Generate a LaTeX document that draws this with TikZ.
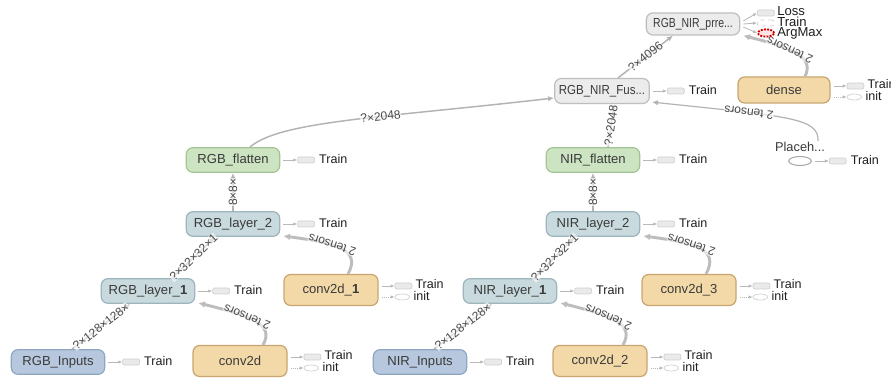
\documentclass[tikz,border=0pt]{standalone}
\usepackage{fontspec}
\setmainfont{Liberation Sans}
\usepackage{graphicx}
\usetikzlibrary{calc,positioning,arrows.meta,shapes.geometric}
\definecolor{txt}{HTML}{3A3A3A}
\definecolor{gfill}{HTML}{ECECEC}
\definecolor{gdraw}{HTML}{BEBEBE}
\definecolor{infill}{HTML}{B7C8DE}
\definecolor{indraw}{HTML}{8EA6C2}
\definecolor{layfill}{HTML}{C8DADE}
\definecolor{laydraw}{HTML}{9DB5BC}
\definecolor{flfill}{HTML}{CDE4C2}
\definecolor{fldraw}{HTML}{A3C592}
\definecolor{tanfill}{HTML}{F3D9A8}
\definecolor{tandraw}{HTML}{C8A570}
\definecolor{edgec}{HTML}{B3B3B3}
\definecolor{edgec2}{HTML}{BDBDBD}
\definecolor{labc}{HTML}{4A4A4A}
\definecolor{stubd}{HTML}{CFCFCF}
\definecolor{stubf}{HTML}{EAEAEA}
\definecolor{stuba}{HTML}{B8B8B8}
\newcommand\trainout[1]{%
  \node[stubrect, anchor=west] (#1st) at ($(#1.east)+(17,0)$) {};
  \node[outtxt] (#1tx) at ($(#1st.east)+(4,-1)$) {Train};
  \draw[stubarrow] ($(#1.east)+(3,0)$) -- (#1st.west);
}
\newcommand\traininit[1]{%
  \node[stubrect, anchor=west] (#1st) at ($(#1.east)+(16,-4)$) {};
  \node[stubell, anchor=west] (#1se) at ($(#1.east)+(16,7)$) {};
  \node[outtxt] (#1tx) at ($(#1st.east)+(3,-2)$) {Train};
  \node[outtxt] (#1ti) at ($(#1st.east)+(1,10)$) {init};
  \draw[stubarrow] ($(#1.east)+(3,-4)$) -- (#1st.west);
  \draw[stubarrow, densely dotted] ($(#1.east)+(3,7)$) -- (#1se.west);
}
\begin{document}
\begin{tikzpicture}[x=0.75pt,y=-0.75pt,
  opnode/.style={draw, rounded corners=5pt, line width=0.9pt, inner sep=0pt,
    minimum width=70pt, minimum height=18.5pt,
    font=\fontsize{9.8}{11}\selectfont, text=txt},
  grayop/.style={opnode, fill=gfill, draw=gdraw},
  inop/.style={opnode, fill=infill, draw=indraw},
  layop/.style={opnode, fill=layfill, draw=laydraw},
  flatop/.style={opnode, fill=flfill, draw=fldraw},
  tanop/.style={opnode, fill=tanfill, draw=tandraw, minimum height=23.25pt, minimum width=70.5pt},
  edge/.style={draw=edgec, line width=1.1pt, -{Latex[length=4.5pt,width=4pt]}},
  tedge/.style={draw=edgec2, line width=2.2pt, -{Latex[length=5pt,width=5pt]}},
  elabel/.style={sloped, font=\fontsize{9}{10}\selectfont, text=labc, inner sep=0.3pt,
    fill=white, fill opacity=0.6, text opacity=1},
  stubrect/.style={draw=stubd, fill=stubf, rounded corners=1.5pt, minimum width=12.75pt,
    minimum height=4.5pt, inner sep=0pt, line width=0.5pt},
  stubell/.style={ellipse, draw=stubd, fill=white, minimum width=11pt, minimum height=4.5pt,
    inner sep=0pt, line width=0.5pt},
  stubarrow/.style={draw=stuba, line width=0.6pt, -{Latex[length=3pt,width=2.5pt]}},
  outtxt/.style={anchor=west, inner sep=0pt, font=\fontsize{9.4}{10}\selectfont, text=black!88},
  bigtxt/.style={anchor=west, inner sep=0pt, font=\fontsize{9.8}{10}\selectfont, text=black!88}
]
\clip (0,0) rectangle (891,384);
\fill[white] (0,0) rectangle (891,384);

% RGB branch
\node[inop]  (rgbin) at (58,362) {RGB\_Inputs};
\node[layop] (rgbl1) at (148,291) {RGB\_layer\_\textbf{1}};
\node[layop] (rgbl2) at (233,224) {RGB\_layer\_2};
\node[flatop] (rgbfl) at (233,160) {RGB\_flatten};
\node[tanop] (cv0) at (240,361) {conv2d};
\node[tanop] (cv1) at (331,290) {conv2d\_\textbf{1}};

% NIR branch
\node[inop]  (nirin) at (420,362) {NIR\_Inputs};
\node[layop] (nirl1) at (510,291) {NIR\_layer\_\textbf{1}};
\node[layop] (nirl2) at (593,224) {NIR\_layer\_2};
\node[flatop] (nirfl) at (593,160) {NIR\_flatten};
\node[tanop] (cv2) at (600,361) {conv2d\_2};
\node[tanop] (cv3) at (689,290) {conv2d\_3};

% top
\node[grayop, minimum width=71pt, minimum height=18.75pt] (fus) at (602,91) {\scalebox{0.88}[1]{RGB\_NIR\_Fus...}};
\node[grayop, minimum height=16.5pt] (prre) at (693,24) {\scalebox{0.8}[1]{RGB\_NIR\_prre...}};
\node[tanop, minimum width=69pt, minimum height=19.5pt] (dense) at (784,90) {dense};
\node[inner sep=0pt, font=\fontsize{9.6}{10}\selectfont, text=txt] (plc) at (800,147) {Placeh...};
\node[ellipse, draw=gdraw!90!black, fill=white, line width=0.8pt, minimum width=17pt, minimum height=6.75pt, inner sep=0pt] (plcel) at (800,161) {};

% edges RGB
\draw[edge] ($(rgbin.north)+(14,0)$) -- node[elabel]{?×128×128×} ($(rgbl1.south)+(-18,0)$);
\draw[edge] ($(rgbl1.north)+(24,0)$) -- node[elabel]{?×32×32×1} ($(rgbl2.south)+(-18,0)$);
\draw[edge] (rgbl2) -- node[elabel]{8×8×} (rgbfl);
\draw[tedge] ($(cv0.north)+(23,0)$) .. controls +(12,-21) and +(52,13) .. ($(rgbl1.south east)+(3,-1)$)
   node[pos=0.6, elabel, allow upside down]{2 tensors};
\draw[tedge] ($(cv1.north)+(17,0)$) .. controls +(14,-25) and +(51,7) .. ($(rgbl2.south east)+(3,-1)$)
   node[pos=0.6, elabel, allow upside down]{2 tensors};
\draw[edge] ($(rgbfl.north)+(17,0)$) .. controls +(30,-26) and +(-174,20) .. ($(fus.west)+(0,7)$)
   node[pos=0.6, elabel]{?×2048};

% edges NIR
\draw[edge] ($(nirin.north)+(14,0)$) -- node[elabel]{?×128×128×} ($(nirl1.south)+(-18,0)$);
\draw[edge] ($(nirl1.north)+(24,0)$) -- node[elabel]{?×32×32×1} ($(nirl2.south)+(-18,0)$);
\draw[edge] (nirl2) -- node[elabel]{8×8×} (nirfl);
\draw[tedge] ($(cv2.north)+(23,0)$) .. controls +(12,-21) and +(52,13) .. ($(nirl1.south east)+(3,-1)$)
   node[pos=0.6, elabel, allow upside down]{2 tensors};
\draw[tedge] ($(cv3.north)+(17,0)$) .. controls +(14,-25) and +(51,7) .. ($(nirl2.south east)+(3,-1)$)
   node[pos=0.6, elabel, allow upside down]{2 tensors};
\draw[edge] ($(nirfl.north)+(15,0)$) -- node[elabel]{?×2048} ($(fus.south)+(12,0)$);

% top edges
\draw[edge] ($(fus.north)+(16,0)$) -- node[elabel]{?×4096} ($(prre.south)+(-20,0)$);
\draw[tedge] ($(dense.north)+(21,0)$) .. controls +(10,-20) and +(47,12) .. ($(prre.south east)+(3,0)$)
   node[pos=0.58, elabel, allow upside down]{2 tensors};
\draw[edge, line width=0.9pt] ($(plcel.north)+(18,-15)$) .. controls +(1,-23) and +(138,14.5) .. ($(fus.south east)+(2,-2)$)
   node[pos=0.7, elabel, allow upside down]{2 tensors};

% output stubs
\trainout{rgbin}
\trainout{rgbl1}
\trainout{rgbl2}
\trainout{rgbfl}
\trainout{nirin}
\trainout{nirl1}
\trainout{nirl2}
\trainout{nirfl}
\trainout{fus}
\trainout{plcel}
\traininit{cv0}
\traininit{cv1}
\traininit{cv2}
\traininit{cv3}
\traininit{dense}

% prediction outputs
\node[stubrect, anchor=west] (lossst) at (757,13) {};
\node[stubrect, anchor=west, dashed, fill=white] (trst) at (757,23) {};
\node[ellipse, draw=red!80!black, densely dotted, line width=1.4pt, fill=red!10,
  minimum width=12pt, minimum height=5.5pt, inner sep=0pt] (argst) at (766,33) {};
\node[bigtxt] (losstx) at (777,11) {Loss};
\node[bigtxt] (trtx) at (777,22) {Train};
\node[bigtxt] (argtx) at (777,33) {ArgMax};
\draw[stubarrow] ($(prre.east)+(3,-3)$) -- (lossst.west);
\draw[stubarrow] ($(prre.east)+(3,0)$) -- (trst.west);
\draw[stubarrow] ($(prre.east)+(3,3)$) -- (argst.west);
\end{tikzpicture}
\end{document}
